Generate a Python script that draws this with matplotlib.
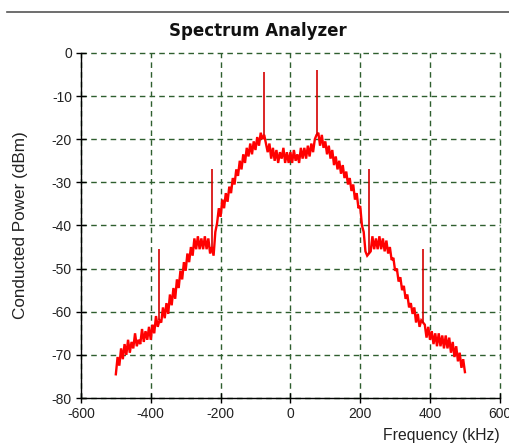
import numpy as np
import matplotlib
matplotlib.use("Agg")
import matplotlib.pyplot as plt
from matplotlib.lines import Line2D

# Sweep: 5 kHz steps from -500 kHz to +500 kHz
freq_start_khz = -500
freq_step_khz = 5

# Measured noise/modulation floor (dBm), one row per 50 kHz
power_dbm = [
    -74.5, -70.5, -72.5, -68.5, -71.0, -67.5, -70.0, -66.5, -69.5, -67.0,
    -68.5, -65.0, -68.0, -66.5, -67.5, -64.0, -67.0, -64.5, -66.5, -63.5,
    -66.5, -63.0, -65.0, -61.0, -63.5, -62.0, -62.5, -59.0, -61.5, -58.0,
    -60.5, -56.0, -58.5, -54.5, -57.0, -52.5, -54.5, -50.5, -52.5, -48.5,
    -50.5, -46.5, -48.5, -45.0, -47.0, -43.0, -45.5, -42.5, -45.5, -43.0,
    -45.5, -42.5, -45.5, -43.0, -46.5, -45.0, -47.0, -41.5, -39.5, -36.0,
    -38.0, -34.0, -36.0, -32.5, -34.5, -31.0, -32.5, -29.0, -30.5, -27.0,
    -28.5, -25.0, -27.0, -23.5, -25.5, -22.0, -24.0, -21.0, -23.5, -20.5,
    -22.5, -19.5, -21.5, -18.5, -20.0, -19.0, -21.0, -23.0, -21.0, -24.5,
    -22.0, -25.0, -22.5, -25.5, -23.0, -24.5, -22.0, -25.5, -23.0, -25.5,
    -23.0, -25.5, -22.5, -25.0, -23.5, -25.5, -22.0, -24.5, -22.0, -24.5,
    -21.5, -24.0, -21.0, -23.0, -20.0, -19.0, -18.5, -21.5, -19.0, -22.0,
    -20.5, -23.5, -21.5, -24.5, -22.5, -26.0, -24.0, -27.0, -25.0, -28.0,
    -26.0, -29.0, -27.5, -30.5, -29.0, -32.0, -30.5, -34.0, -32.5, -36.0,
    -35.5, -40.0, -41.5, -46.0, -47.0, -46.5, -46.0, -42.5, -45.5, -43.0,
    -45.5, -42.5, -45.5, -43.0, -46.0, -43.5, -46.5, -45.0, -48.0, -47.5,
    -50.5, -50.0, -53.0, -52.0, -55.0, -54.0, -57.0, -56.0, -59.0, -58.0,
    -60.5, -59.0, -62.5, -60.5, -63.5, -62.0, -62.5, -63.0, -66.0, -63.5,
    -66.5, -64.5, -67.5, -65.0, -68.0, -65.0, -68.0, -65.5, -68.5, -65.5,
    -68.5, -66.0, -69.5, -67.0, -70.5, -68.0, -71.5, -69.5, -73.0, -71.0,
    -74.0,
]

# Discrete tones rising out of the floor
tone_freq_khz = [-375, -225, -75, 75, 225, 380]
tone_base_dbm = [-62.0, -45.0, -19.0, -19.0, -46.5, -62.5]
tone_peak_dbm = [-45.5, -27.0, -4.5, -4.0, -27.0, -45.5]

x_ticks = [-600, -400, -200, 0, 200, 400, 600]
y_ticks = [-80, -70, -60, -50, -40, -30, -20, -10, 0]

freq_khz = freq_start_khz + freq_step_khz * np.arange(len(power_dbm))

plt.rcParams["font.family"] = ["Liberation Sans", "DejaVu Sans"]

fig = plt.figure(figsize=(5.09, 4.45), dpi=100)
ax = fig.add_axes([0.159, 0.1056, 0.823, 0.7754])

ax.plot(freq_khz, power_dbm, color="#ff0000", linewidth=1.7,
        solid_joinstyle="miter", zorder=3)
ax.vlines(tone_freq_khz, tone_base_dbm, tone_peak_dbm, color="#d40000",
          linewidth=1.2, zorder=3)

ax.set_xlim(-600, 600)
ax.set_ylim(-80, 0)
ax.set_xticks(x_ticks)
ax.set_yticks(y_ticks)
ax.set_xticklabels([str(v) for v in x_ticks])
ax.set_yticklabels([str(v) for v in y_ticks])

ax.grid(True, color="#2f5f2f", linestyle=(0, (4, 3)), linewidth=1.0, zorder=1)
ax.set_axisbelow(True)
for gl in ax.get_xgridlines() + ax.get_ygridlines():
    gl.set_clip_on(False)

for side in ("top", "right"):
    ax.spines[side].set_visible(False)
for side in ("left", "bottom"):
    ax.spines[side].set_color("black")
    ax.spines[side].set_linewidth(1.0)

ax.tick_params(axis="both", direction="inout", length=7, width=1.0,
               labelsize=10, colors="black", labelcolor="#222222", pad=3)

ax.set_ylabel("Conducted Power (dBm)", fontsize=12.3, color="#222222", labelpad=17)
ax.set_xlabel("Frequency (kHz)", fontsize=11.3, color="#222222", loc="right", labelpad=5)

fig.text(0.507, 0.930, "Spectrum Analyzer", ha="center", va="center",
         fontsize=12, fontweight="bold", color="#111111",
         family=["DejaVu Sans"])

fig.add_artist(Line2D([0.014, 1.0], [0.973, 0.973], transform=fig.transFigure,
                      color="#555555", linewidth=1.2))

fig.savefig("out.png", dpi=100, facecolor="white")
